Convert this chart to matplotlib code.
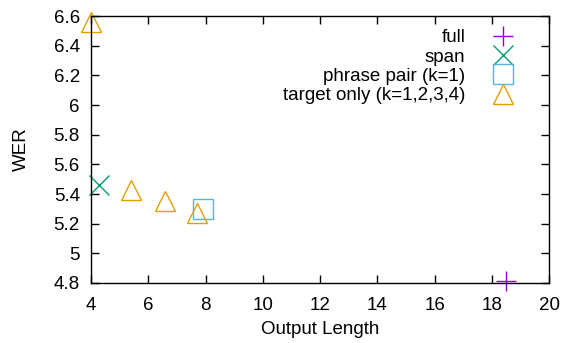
import numpy as np
from matplotlib import pyplot as plt
from matplotlib.ticker import FuncFormatter

plt.rcParams['font.family'] = ['Liberation Sans', 'DejaVu Sans']

# data
full_x = [18.5]
full_y = [4.81]
span_x = [4.28]
span_y = [5.46]
pair_x = [7.9]
pair_y = [5.30]
target_x = [4.0, 5.4, 6.6, 7.7]
target_y = [6.56, 5.43, 5.35, 5.27]

xticks = np.arange(4, 21, 2)
yticks = np.arange(4.8, 6.61, 0.2)

fs = 13.5

fig = plt.figure(figsize=(5.65, 3.43), dpi=100)
ax = fig.add_axes([0.161, 0.175, 0.811, 0.778])

ms = 14.5
ax.plot(full_x, full_y, ls='none', marker='+', ms=ms, mew=1.0, color='#9400d3', label='full', clip_on=False)
ax.plot(span_x, span_y, ls='none', marker='x', ms=ms * 0.95, mew=1.0, color='#009e73', label='span', clip_on=False)
ax.plot(pair_x, pair_y, ls='none', marker='s', ms=ms * 0.95, mew=1.0, mfc='none', color='#56b4e9', label='phrase pair (k=1)', clip_on=False)
ax.plot(target_x, target_y, ls='none', marker='^', ms=ms, mew=1.0, mfc='none', color='#e69f00', label='target only (k=1,2,3,4)', clip_on=False)

ax.set_xlim(4, 20)
ax.set_ylim(4.8, 6.6)
ax.set_xticks(xticks)
ax.set_yticks(yticks)
fmt = FuncFormatter(lambda v, p: ('%.1f' % v).rstrip('0').rstrip('.'))
ax.xaxis.set_major_formatter(fmt)
ax.yaxis.set_major_formatter(fmt)
ax.tick_params(direction='in', length=6, width=1, top=True, right=True, labelsize=fs)
ax.tick_params(axis='x', pad=10)
ax.tick_params(axis='y', pad=8)
for s in ax.spines.values():
    s.set_linewidth(1)

ax.set_xlabel('Output Length', fontsize=fs, labelpad=5)
ax.set_ylabel('WER', fontsize=fs, labelpad=17)

leg = ax.legend(loc='upper right', markerfirst=False, frameon=False, fontsize=fs,
                handletextpad=1.0, labelspacing=0.12, borderaxespad=0.15,
                bbox_to_anchor=(0.962, 0.99))

fig.savefig('out.png', dpi=100)
